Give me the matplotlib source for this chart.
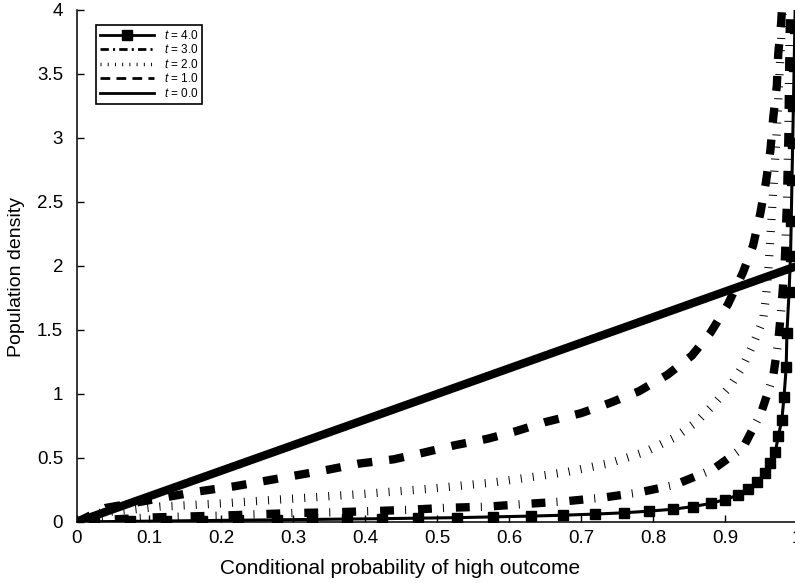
import matplotlib
matplotlib.use('Agg')
import matplotlib.pyplot as plt
from matplotlib.lines import Line2D
from matplotlib.ticker import FuncFormatter

plt.rcParams['font.family'] = ['Liberation Sans', 'DejaVu Sans']
plt.rcParams['mathtext.fontset'] = 'custom'
plt.rcParams['mathtext.it'] = 'Liberation Sans:italic'
plt.rcParams['mathtext.rm'] = 'Liberation Sans'
plt.rcParams['lines.scale_dashes'] = False

# datos
x_t0 = [0.0, 1.0]
y_t0 = [0.0, 2.0]

x_t1 = [0.0, 0.04, 0.13, 0.17, 0.22, 0.26, 0.30, 0.35, 0.39, 0.44, 0.48, 0.525, 0.57,
        0.61, 0.65, 0.70, 0.74, 0.78, 0.82, 0.854, 0.88, 0.904, 0.925, 0.939, 0.949,
        0.957, 0.963, 0.967, 0.972, 0.974, 0.978, 0.980]
y_t1 = [0.0, 0.11, 0.20, 0.24, 0.28, 0.32, 0.36, 0.41, 0.455, 0.49, 0.54, 0.60, 0.65,
        0.71, 0.78, 0.85, 0.93, 1.02, 1.15, 1.30, 1.48, 1.70, 1.95, 2.16, 2.41,
        2.66, 2.90, 3.16, 3.41, 3.66, 3.90, 4.10]

x_t2 = [0.0, 0.03, 0.115, 0.2, 0.28, 0.4, 0.49, 0.58, 0.68, 0.74, 0.79, 0.83, 0.86,
        0.883, 0.907, 0.925, 0.94, 0.953, 0.957, 0.961, 0.966, 0.972, 0.976, 0.980, 0.982]
y_t2 = [0.0, 0.07, 0.12, 0.145, 0.175, 0.22, 0.26, 0.31, 0.39, 0.46, 0.55, 0.66, 0.78,
        0.91, 1.06, 1.22, 1.40, 1.58, 1.76, 2.03, 2.50, 3.06, 3.54, 4.0, 4.2]

x_t3 = [0.0, 0.05, 0.1, 0.2, 0.3, 0.35, 0.41, 0.46, 0.51, 0.57, 0.62, 0.675, 0.73,
        0.78, 0.83, 0.883, 0.925, 0.95, 0.967, 0.974, 0.979, 0.983, 0.986, 0.988,
        0.989, 0.990, 0.991]
y_t3 = [0.0, 0.02, 0.035, 0.05, 0.07, 0.075, 0.085, 0.095, 0.11, 0.12, 0.14, 0.16, 0.19,
        0.23, 0.29, 0.41, 0.58, 0.85, 1.14, 1.41, 1.72, 2.03, 2.5, 3.0,
        3.5, 3.9, 4.2]

x_t4 = [0.0, 0.024, 0.074, 0.124, 0.174, 0.224, 0.278, 0.326, 0.375, 0.424, 0.474,
        0.528, 0.578, 0.63, 0.675, 0.72, 0.76, 0.795, 0.828, 0.855, 0.88, 0.9, 0.918,
        0.932, 0.944, 0.955, 0.963, 0.970, 0.974, 0.979, 0.982, 0.985, 0.986, 0.989,
        0.991, 0.992, 0.993, 0.994, 0.995, 0.996, 0.997, 0.998]
y_t4 = [0.0, 0.002, 0.005, 0.008, 0.011, 0.014, 0.017, 0.02, 0.023, 0.026, 0.03,
        0.034, 0.04, 0.046, 0.053, 0.062, 0.072, 0.085, 0.1, 0.12, 0.145, 0.175, 0.21,
        0.26, 0.31, 0.38, 0.46, 0.55, 0.67, 0.80, 0.98, 1.21, 1.48, 1.80,
        2.08, 2.35, 2.67, 2.96, 3.25, 3.56, 3.86, 4.2]

etiquetas = ['$t$ = 4.0', '$t$ = 3.0', '$t$ = 2.0', '$t$ = 1.0', '$t$ = 0.0']

fig = plt.figure(figsize=(7.95, 5.83), dpi=100)
ax = fig.add_axes([77/795, 61/583, 720/795, 512/583])

k = 'black'
lw = 6
ax.plot(x_t0, y_t0, color=k, lw=lw, solid_capstyle='butt')
ax.plot(x_t1, y_t1, color=k, lw=lw, linestyle=(0, (10.8, 12.2)), dash_capstyle='butt')
ax.plot(x_t2, y_t2, color=k, lw=lw, linestyle=(0, (0.7, 8)), dash_capstyle='butt')
ax.plot(x_t3, y_t3, color=k, lw=lw, linestyle=(0, (10, 8, 0.7, 8.6)), dash_capstyle='butt')
ax.plot(x_t4, y_t4, color=k, lw=2.2, marker='s', markersize=6.5)

ax.set_xlim(0, 1)
ax.set_ylim(0, 4)
ax.set_xticks([i/10 for i in range(11)])
ax.set_yticks([i/2 for i in range(9)])
fmt = FuncFormatter(lambda v, p: f'{v:g}')
ax.xaxis.set_major_formatter(fmt)
ax.yaxis.set_major_formatter(fmt)
ax.tick_params(direction='in', length=5, width=1, labelsize=13.5)
ax.tick_params(axis='y', pad=10)
ax.tick_params(axis='x', pad=6)
ax.spines['top'].set_visible(False)
ax.spines['right'].set_visible(False)
ax.spines['left'].set_linewidth(1.1)
ax.spines['bottom'].set_linewidth(1.1)

ax.set_xlabel('Conditional probability of high outcome', fontsize=15)
ax.xaxis.set_label_coords(0.449, -0.072)
ax.set_ylabel('Population density', fontsize=14)
ax.yaxis.set_label_coords(-0.072, 0.478)

# manijas de la leyenda (mas delgadas)
manijas = [
    Line2D([], [], color=k, lw=2, marker='s', markersize=6.5, markevery=[1]),
    Line2D([], [], color=k, lw=2, linestyle=(0, (6, 3, 1.5, 3))),
    Line2D([], [], color=k, lw=2.5, linestyle=(0, (0.7, 4.5)), dash_capstyle='butt'),
    Line2D([], [], color=k, lw=2, linestyle=(0, (7, 4.5))),
    Line2D([], [], color=k, lw=2),
]
leg = ax.legend(manijas, etiquetas, loc='upper left', bbox_to_anchor=(0.026, 0.971),
                borderaxespad=0, fontsize=8.5, handlelength=4.6, labelspacing=0.12,
                fancybox=False, edgecolor=k, framealpha=1, borderpad=0.35,
                handletextpad=0.8)
leg.get_frame().set_linewidth(1.2)

fig.savefig('out.png', dpi=100)
